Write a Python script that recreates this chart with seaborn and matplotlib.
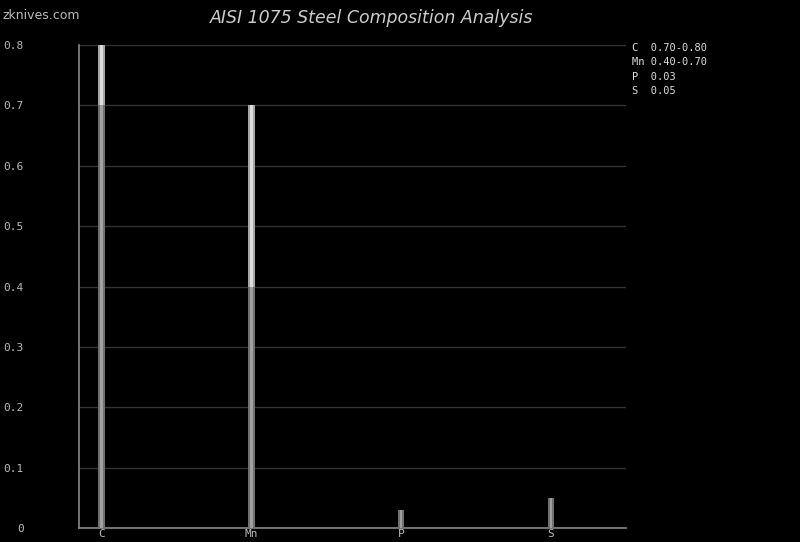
import matplotlib
matplotlib.use("Agg")
import matplotlib.pyplot as plt
import seaborn as sns
import pandas as pd

elements = ["C", "Mn", "P", "S"]
min_vals = [0.70, 0.40, 0.03, 0.05]
max_vals = [0.80, 0.70, 0.03, 0.05]
legend_lines = ["C  0.70-0.80", "Mn 0.40-0.70", "P  0.03", "S  0.05"]
yticks = [0, 0.1, 0.2, 0.3, 0.4, 0.5, 0.6, 0.7, 0.8]
ytick_labels = ["0", "0.1", "0.2", "0.3", "0.4", "0.5", "0.6", "0.7", "0.8"]

df = pd.DataFrame({"element": elements, "min": min_vals, "max": max_vals})

sns.set_theme(style="dark")
plt.rcParams["font.family"] = ["DejaVu Sans"]

fig = plt.figure(figsize=(8, 5.42), dpi=100, facecolor="black")
ax = fig.add_axes([0.099, 0.0258, 0.6835, 0.891])
ax.set_facecolor("black")

bar_kw = dict(saturation=1, linewidth=0, edgecolor="none", ax=ax)
# max (range) bars - lighter
sns.barplot(data=df, x="element", y="max", color="#a6a6a6", width=0.045, zorder=3, **bar_kw)
sns.barplot(data=df, x="element", y="max", color="#dcdcdc", width=0.018, zorder=3, **bar_kw)
# min (base) bars - darker
sns.barplot(data=df, x="element", y="min", color="#707070", width=0.045, zorder=4, **bar_kw)
sns.barplot(data=df, x="element", y="min", color="#a0a0a0", width=0.018, zorder=4, **bar_kw)

ax.set_xlim(-0.147, 3.5)
ax.set_ylim(0, 0.8)
ax.set_yticks(yticks)
ax.set_yticklabels(ytick_labels)
ax.set_xlabel("")
ax.set_ylabel("")
ax.yaxis.grid(True, color="#333333", linewidth=1)
ax.xaxis.grid(False)
for side in ["top", "right"]:
    ax.spines[side].set_visible(False)
for side in ["left", "bottom"]:
    ax.spines[side].set_visible(True)
    ax.spines[side].set_color("#888888")
    ax.spines[side].set_linewidth(1.2)
ax.tick_params(axis="y", colors="#bbbbbb", labelsize=8, length=0, pad=40)
ax.tick_params(axis="x", colors="#bbbbbb", labelsize=8, length=0, pad=1)
for lab in ax.get_xticklabels() + ax.get_yticklabels():
    lab.set_family("DejaVu Sans Mono")
    lab.set_color("#bbbbbb")

fig.text(0.465, 0.967, "AISI 1075 Steel Composition Analysis", ha="center", va="center",
         color="#cccccc", fontsize=12.5, style="italic")
fig.text(0.003, 0.971, "zknives.com", ha="left", va="center", color="#bbbbbb", fontsize=9)

for i, line in enumerate(legend_lines):
    fig.text(0.79, 1 - (48 + i * 14.3) / 542, line, ha="left", va="center",
             color="#dddddd", fontsize=7.5, family="DejaVu Sans Mono")

fig.savefig("out.png", dpi=100, facecolor="black")
